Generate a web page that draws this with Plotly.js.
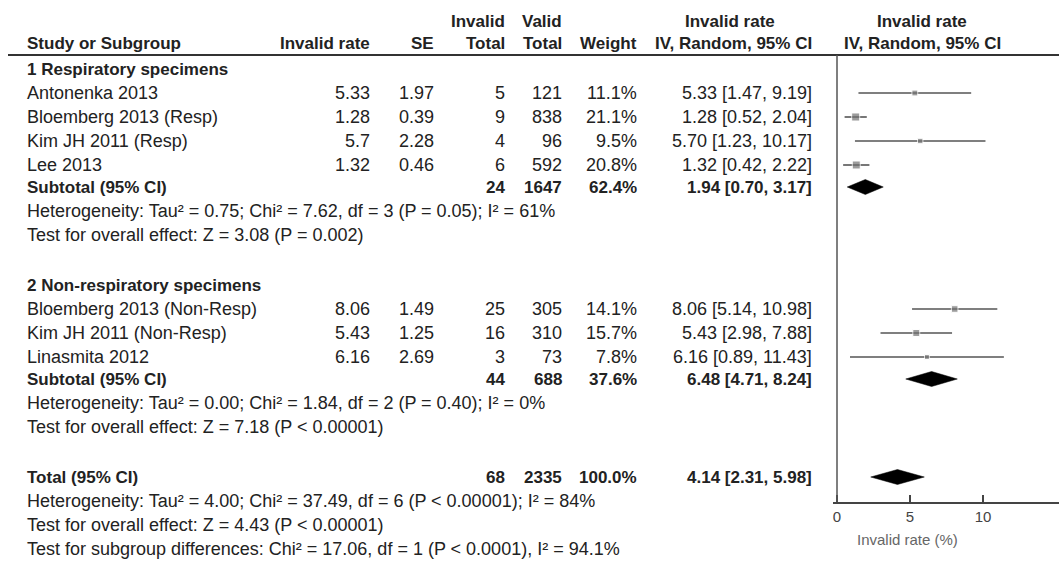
<!DOCTYPE html>
<html>
<head>
<meta charset="utf-8">
<script src="https://cdn.plot.ly/plotly-3.0.1.min.js"></script>
<style>html,body{margin:0;padding:0;background:#fff;}#chart{width:1059px;height:562px;}</style>
</head>
<body>
<div id="chart"></div>
<script>
// ---------- DATA ----------
const studies = ["Antonenka 2013", "Bloemberg 2013 (Resp)", "Kim JH 2011 (Resp)", "Lee 2013",
                 "Bloemberg 2013 (Non-Resp)", "Kim JH 2011 (Non-Resp)", "Linasmita 2012"];
const studyGroup = [1, 1, 1, 1, 2, 2, 2];
const invalidRate = [5.33, 1.28, 5.7, 1.32, 8.06, 5.43, 6.16];
const seValues = [1.97, 0.39, 2.28, 0.46, 1.49, 1.25, 2.69];
const invalidTotal = [5, 9, 4, 6, 25, 16, 3];
const validTotal = [121, 838, 96, 592, 305, 310, 73];
const weights = [11.1, 21.1, 9.5, 20.8, 14.1, 15.7, 7.8];
const ciLow = [1.47, 0.52, 1.23, 0.42, 5.14, 2.98, 0.89];
const ciHigh = [9.19, 2.04, 10.17, 2.22, 10.98, 7.88, 11.43];

const groupTitles = ["1 Respiratory specimens", "2 Non-respiratory specimens"];
const subInvalid = [24, 44];
const subValid = [1647, 688];
const subWeight = [62.4, 37.6];
const subEst = [1.94, 6.48];
const subLow = [0.70, 4.71];
const subHigh = [3.17, 8.24];
const subHet = ["Heterogeneity: Tau² = 0.75; Chi² = 7.62, df = 3 (P = 0.05); I² = 61%",
                "Heterogeneity: Tau² = 0.00; Chi² = 1.84, df = 2 (P = 0.40); I² = 0%"];
const subTest = ["Test for overall effect: Z = 3.08 (P = 0.002)",
                 "Test for overall effect: Z = 7.18 (P < 0.00001)"];

const totalInvalid = 68, totalValid = 2335, totalWeight = 100.0;
const totalEst = 4.14, totalLow = 2.31, totalHigh = 5.98;
const totalNotes = ["Heterogeneity: Tau² = 4.00; Chi² = 37.49, df = 6 (P < 0.00001); I² = 84%",
                    "Test for overall effect: Z = 4.43 (P < 0.00001)",
                    "Test for subgroup differences: Chi² = 17.06, df = 1 (P < 0.0001), I² = 94.1%"];
const xTicks = [0, 5, 10];

// ---------- LAYOUT GEOMETRY (pixels) ----------
const W = 1059, H = 562;
const FONT = "Liberation Sans, Arial, sans-serif";
const FS = 18, FSB = 17;
const TXT = "#222";
const col = {name: 25, rate: 372, se: 436, inv: 507, val: 564, wt: 639, ci: 814, ciHead: 730, forest: 922};
const zeroPx = 837, pxPerUnit = 14.6, axisLeftPx = 833, axisYPx = 502;
const rowY = {hdr1: 21, hdr2: 43, line: 55,
  groupTitle: [69, 285], studyStart: [93, 309], pitch: 24, total: 477};

const anns = [];
function txt(x, y, s, anchor, opts) {
  opts = opts || {};
  anns.push({xref: "paper", yref: "y", x: x / W, y: y, text: opts.bold ? "<b>" + s + "</b>" : s,
    xanchor: anchor, yanchor: "middle", showarrow: false,
    font: {family: FONT, size: opts.size || (opts.bold ? FSB : FS), color: opts.color || TXT}});
}
const f2 = v => v.toFixed(2);
const ciText = (e, l, h) => f2(e) + " [" + f2(l) + ", " + f2(h) + "]";

// headers
txt(col.inv, rowY.hdr1, "Invalid", "right", {bold: true});
txt(col.val, rowY.hdr1, "Valid", "right", {bold: true});
txt(col.ciHead, rowY.hdr1, "Invalid rate", "center", {bold: true});
txt(col.forest, rowY.hdr1, "Invalid rate", "center", {bold: true});
txt(col.name, rowY.hdr2, "Study or Subgroup", "left", {bold: true});
txt(col.rate, rowY.hdr2, "Invalid rate", "right", {bold: true});
txt(col.se, rowY.hdr2, "SE", "right", {bold: true});
txt(col.inv, rowY.hdr2, "Total", "right", {bold: true});
txt(col.val, rowY.hdr2, "Total", "right", {bold: true});
txt(col.wt, rowY.hdr2, "Weight", "right", {bold: true});
txt(col.ci, rowY.hdr2, "IV, Random, 95% CI", "right", {bold: true});
txt(col.forest, rowY.hdr2, "IV, Random, 95% CI", "center", {bold: true});

// study rows
const studyY = [];
const subY = [];
[1, 2].forEach((g, gi) => {
  txt(col.name, rowY.groupTitle[gi], groupTitles[gi], "left", {bold: true});
  let y = rowY.studyStart[gi];
  studies.forEach((s, i) => {
    if (studyGroup[i] !== g) return;
    studyY[i] = y;
    txt(col.name, y, s, "left");
    txt(col.rate, y, String(invalidRate[i]), "right");
    txt(col.se, y, String(seValues[i]), "right");
    txt(col.inv, y, String(invalidTotal[i]), "right");
    txt(col.val, y, String(validTotal[i]), "right");
    txt(col.wt, y, weights[i].toFixed(1) + "%", "right");
    txt(col.ci, y, ciText(invalidRate[i], ciLow[i], ciHigh[i]), "right");
    y += rowY.pitch;
  });
  const sy = y - 2;
  subY[gi] = sy;
  txt(col.name, sy, "Subtotal (95% CI)", "left", {bold: true});
  txt(col.inv, sy, String(subInvalid[gi]), "right", {bold: true});
  txt(col.val, sy, String(subValid[gi]), "right", {bold: true});
  txt(col.wt, sy, subWeight[gi].toFixed(1) + "%", "right", {bold: true});
  txt(col.ci, sy, ciText(subEst[gi], subLow[gi], subHigh[gi]), "right", {bold: true});
  txt(col.name, sy + rowY.pitch, subHet[gi], "left");
  txt(col.name, sy + 2 * rowY.pitch, subTest[gi], "left");
});

// total
txt(col.name, rowY.total, "Total (95% CI)", "left", {bold: true});
txt(col.inv, rowY.total, String(totalInvalid), "right", {bold: true});
txt(col.val, rowY.total, String(totalValid), "right", {bold: true});
txt(col.wt, rowY.total, totalWeight.toFixed(1) + "%", "right", {bold: true});
txt(col.ci, rowY.total, ciText(totalEst, totalLow, totalHigh), "right", {bold: true});
totalNotes.forEach((s, k) => txt(col.name, rowY.total + (k + 1) * rowY.pitch, s, "left"));

// axis title
txt(907, 539, "Invalid rate (%)", "center", {size: 15, color: "#666"});

// ---------- TRACES ----------
const traces = [];
traces.push({
  type: "scatter", mode: "markers", x: invalidRate, y: studyY, cliponaxis: false,
  marker: {symbol: "square", color: "#737373", size: weights.map(w => 1.75 * Math.sqrt(w))},
  error_x: {type: "data", symmetric: false,
    array: invalidRate.map((v, i) => ciHigh[i] - v),
    arrayminus: invalidRate.map((v, i) => v - ciLow[i]),
    width: 0, thickness: 1.6, color: "#555"},
  hoverinfo: "skip"
});
const dh = 7.5;
function diamond(e, l, h, y) {
  traces.push({type: "scatter", mode: "lines", fill: "toself", fillcolor: "#000",
    x: [l, e, h, e, l], y: [y, y - dh, y, y + dh, y],
    line: {width: 0.5, color: "#000"}, hoverinfo: "skip", cliponaxis: false});
}
subEst.forEach((e, gi) => diamond(e, subLow[gi], subHigh[gi], subY[gi]));
diamond(totalEst, totalLow, totalHigh, rowY.total);

const layout = {
  width: W, height: H, margin: {l: 0, r: 0, t: 0, b: 0, pad: 0},
  paper_bgcolor: "#fff", plot_bgcolor: "rgba(0,0,0,0)", showlegend: false,
  xaxis: {domain: [axisLeftPx / W, 1], range: [(axisLeftPx - zeroPx) / pxPerUnit, (W - zeroPx) / pxPerUnit],
    anchor: "free", position: 1 - axisYPx / H, tickmode: "array", tickvals: xTicks,
    ticks: "inside", ticklen: 7, tickwidth: 1.5, tickcolor: "#444",
    showline: true, linecolor: "#444", linewidth: 1.5, showgrid: false, zeroline: false,
    tickfont: {family: FONT, size: 15, color: "#444"}, automargin: false, fixedrange: true},
  yaxis: {domain: [0, 1], range: [H, 0], visible: false, showgrid: false, zeroline: false,
    automargin: false, fixedrange: true},
  shapes: [
    {type: "line", xref: "paper", yref: "y", x0: 8 / W, x1: 1, y0: rowY.line, y1: rowY.line,
     line: {color: "#333", width: 2}},
    {type: "line", xref: "x", yref: "y", x0: 0, x1: 0, y0: rowY.line, y1: axisYPx,
     line: {color: "#555", width: 1.5}}
  ],
  annotations: anns
};
Plotly.newPlot("chart", traces, layout, {displayModeBar: false, staticPlot: true});
</script>
</body>
</html>
